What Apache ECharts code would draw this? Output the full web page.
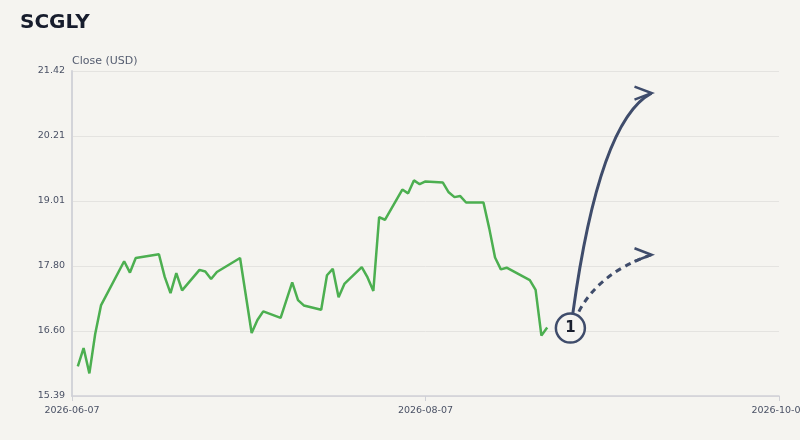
<!DOCTYPE html>
<html><head><meta charset="utf-8">
<script src="https://cdn.jsdelivr.net/npm/echarts@6/dist/echarts.min.js"></script>
<style>html,body{margin:0;padding:0;background:#f5f4f0;}#c{width:800px;height:440px;}</style>
</head><body><div id="c"></div>
<script>
const chartTitle = 'SCGLY';
const yAxisName = 'Close (USD)';
const startDate = '2026-06-07';
const endDate = '2026-10-07';
const yMin = 15.39;
const yMax = 21.42;
const yTickCount = 5;

const dates = [
  '2026-06-08','2026-06-09','2026-06-10','2026-06-11','2026-06-12','2026-06-16','2026-06-17','2026-06-18',
  '2026-06-22','2026-06-23','2026-06-24','2026-06-25','2026-06-26','2026-06-29','2026-06-30','2026-07-01',
  '2026-07-02','2026-07-06','2026-07-08','2026-07-09','2026-07-10','2026-07-13','2026-07-15','2026-07-16',
  '2026-07-17','2026-07-20','2026-07-21','2026-07-22','2026-07-23','2026-07-24','2026-07-27','2026-07-28',
  '2026-07-29','2026-07-30','2026-07-31','2026-08-03','2026-08-04','2026-08-05','2026-08-06','2026-08-07',
  '2026-08-10','2026-08-11','2026-08-12','2026-08-13','2026-08-14','2026-08-17','2026-08-18','2026-08-19',
  '2026-08-20','2026-08-21','2026-08-25','2026-08-26','2026-08-27','2026-08-28'
];
const closes = [
  15.94,16.28,15.81,16.54,17.07,17.89,17.68,17.95,
  18.02,17.60,17.30,17.67,17.35,17.73,17.70,17.56,
  17.69,17.95,16.56,16.80,16.96,16.84,17.50,17.17,
  17.07,16.99,17.63,17.75,17.22,17.47,17.78,17.59,
  17.34,18.71,18.66,19.22,19.15,19.39,19.32,19.37,
  19.35,19.17,19.08,19.10,18.98,18.98,18.50,17.96,
  17.74,17.77,17.54,17.36,16.51,16.66
];

// annotation (scenario marker with two arrows)
const markerPoint = ['2026-09-01', 16.65];
const markerLabel = '1';
const arrowTargets = [['2026-09-15', 21.01], ['2026-09-15', 18.01]];
const arrowControls = [['2026-09-06', 20.50], ['2026-09-06', 17.68]];
const arrowDashed = [false, true];

const DAY = 86400000;
function dayIndex(s) { return (Date.parse(s) - Date.parse(startDate)) / DAY; }
function dayLabel(v) { return new Date(Date.parse(startDate) + Math.round(v) * DAY).toISOString().slice(0, 10); }

const lineData = dates.map((d, i) => [dayIndex(d), closes[i]]);
const totalDays = dayIndex(endDate);

const ink = '#3f4c6b';
const bg = '#f5f4f0';

function renderAnnotation(params, api) {
  const c = api.coord([dayIndex(markerPoint[0]), markerPoint[1]]);
  const children = [];
  const starts = [[c[0] + 2.5, c[1] - 15], [c[0] + 8.5, c[1] - 16.5]];
  arrowTargets.forEach((t, i) => {
    const e = api.coord([dayIndex(t[0]), t[1]]);
    const cp = api.coord([dayIndex(arrowControls[i][0]), arrowControls[i][1]]);
    const s = starts[i];
    children.push({
      type: 'bezierCurve',
      shape: { x1: s[0], y1: s[1], x2: e[0], y2: e[1], cpx1: cp[0], cpy1: cp[1] },
      style: { fill: null, stroke: ink, lineWidth: 3, lineDash: arrowDashed[i] ? [6, 5] : null }
    });
    children.push({
      type: 'polyline',
      shape: { points: [[e[0] - 17, e[1] - 6.5], [e[0], e[1]], [e[0] - 17, e[1] + 6.5]] },
      style: { fill: null, stroke: ink, lineWidth: 2.5 }
    });
  });
  children.push({
    type: 'circle',
    shape: { cx: c[0], cy: c[1], r: 14.5 },
    style: { fill: bg, stroke: ink, lineWidth: 2.5 }
  });
  children.push({
    type: 'text',
    style: { text: markerLabel, x: c[0], y: c[1] + 0.5, align: 'center', verticalAlign: 'middle',
      font: 'bold 15px "DejaVu Sans"', fill: '#1a1f2e' }
  });
  return { type: 'group', children };
}

const chart = echarts.init(document.getElementById('c'), null, { renderer: 'canvas' });
chart.setOption({
  animation: false,
  backgroundColor: bg,
  textStyle: { fontFamily: 'DejaVu Sans' },
  title: {
    text: chartTitle, left: 15, top: 8,
    textStyle: { fontSize: 20, fontWeight: 'bold', color: '#161c2c', fontFamily: 'DejaVu Sans' }
  },
  grid: { left: 72, right: 21, top: 71, bottom: 44, containLabel: false, outerBoundsMode: 'none' },
  xAxis: {
    type: 'value', min: 0, max: totalDays, interval: totalDays / 2,
    axisLine: { show: true, lineStyle: { color: '#cfd0d6', width: 1.5 } },
    axisTick: { show: true, length: 5, lineStyle: { color: '#cfd0d6' } },
    splitLine: { show: false },
    axisLabel: { formatter: dayLabel, color: '#4a5165', fontSize: 9.5, margin: 10, showMaxLabel: true, showMinLabel: true }
  },
  yAxis: {
    type: 'value', min: yMin, max: yMax, interval: (yMax - yMin) / yTickCount,
    name: yAxisName, nameLocation: 'end', nameGap: 4,
    nameTextStyle: { align: 'left', color: '#555d70', fontSize: 11, padding: [0, 0, 0, 0] },
    axisLine: { show: true, lineStyle: { color: '#d3d4d9', width: 2 } },
    axisTick: { show: false },
    splitLine: { show: true, lineStyle: { color: '#e4e3e0', width: 1 } },
    axisLabel: { formatter: v => v.toFixed(2), color: '#4a5165', fontSize: 9.5, margin: 7 }
  },
  series: [
    {
      type: 'line', data: lineData, showSymbol: false, symbol: 'none',
      lineStyle: { color: '#4caf50', width: 2.5 }, z: 2
    },
    {
      type: 'custom', data: [[0, 0]], renderItem: renderAnnotation, clip: false, z: 5, silent: true
    }
  ]
});
</script></body></html>
